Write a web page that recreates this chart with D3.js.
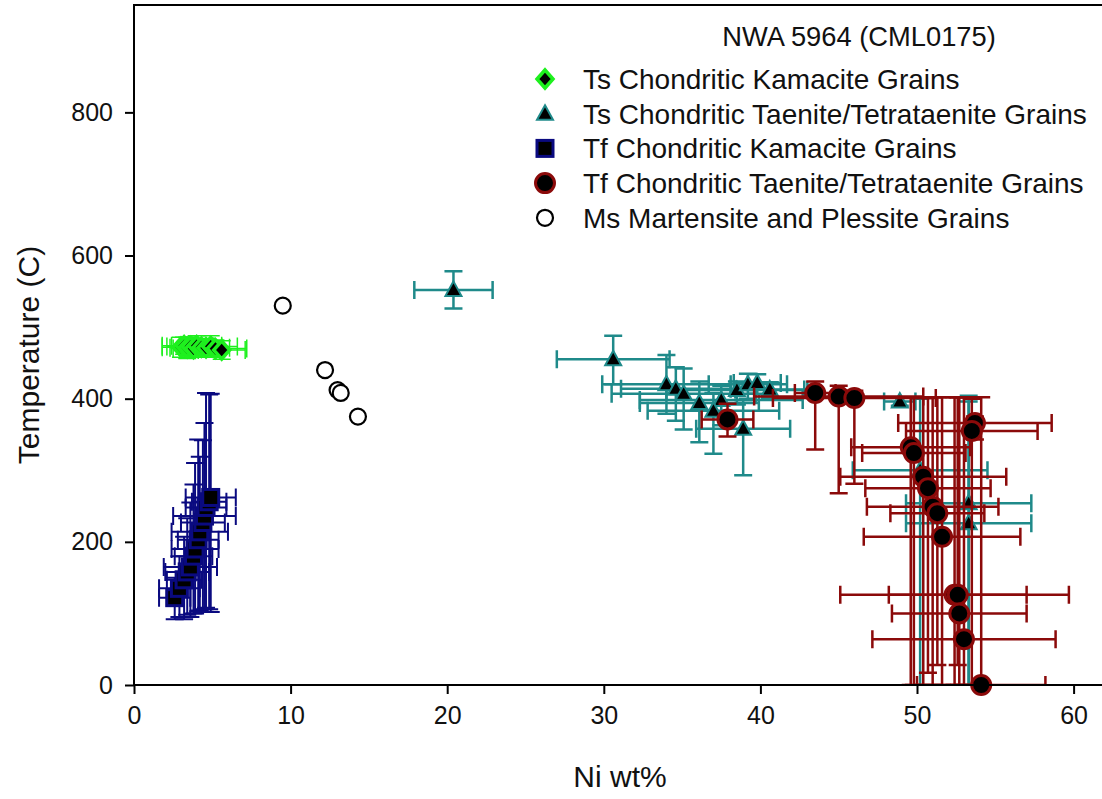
<!DOCTYPE html>
<html>
<head>
<meta charset="utf-8">
<script src="https://cdn.jsdelivr.net/npm/d3@7"></script>
<style>
  body { margin: 0; background: #fff; }
  svg { font-family: Arial, "Liberation Sans", sans-serif; }
</style>
</head>
<body>
<svg width="1102" height="799"></svg>
<script>
// rows: [Ni wt%, Ni error, Temperature, T error down, T error up]
var tsKamacite = [
  [3.0, 1.2, 472, 14, 14], [3.2, 1.4, 474, 12, 12], [3.4, 1.1, 471, 15, 15],
  [3.6, 1.5, 473, 13, 13], [3.8, 1.3, 470, 12, 12], [4.0, 1.6, 474, 14, 14],
  [4.3, 1.3, 472, 11, 11], [4.6, 1.5, 471, 13, 13], [4.9, 1.7, 473, 15, 15],
  [5.2, 2.0, 470, 12, 12], [5.6, 1.5, 468, 13, 13]
];
var tsTaenite = [
  [20.4, 2.5, 552, 26, 26], [30.6, 3.6, 455, 35, 33], [34.0, 4.1, 420, 41, 41],
  [34.6, 3.5, 414, 45, 30], [35.1, 4.6, 407, 50, 35], [36.1, 3.8, 394, 55, 30],
  [37.5, 5.2, 398, 35, 20], [38.5, 4.5, 412, 20, 12],
  [37.0, 4.2, 383, 60, 25], [38.9, 3.0, 358, 65, 40], [39.2, 2.5, 420, 20, 15],
  [39.8, 1.5, 422, 15, 12], [40.6, 2.2, 413, 12, 10], [48.9, 1.0, 396, 6, 6],
  [50.2, 4.3, 300, 320, 100], [53.3, 4.0, 254, 260, 150], [53.3, 4.0, 226, 240, 170]
];
var tfKamacite = [
  [2.6, 1.0, 122, 30, 28], [2.9, 1.3, 135, 40, 45], [3.2, 1.1, 147, 55, 60],
  [3.4, 1.4, 158, 60, 75], [3.6, 1.7, 165, 70, 90], [3.8, 1.2, 180, 80, 100],
  [3.9, 1.5, 190, 90, 120], [4.1, 1.3, 203, 100, 140], [4.2, 1.8, 214, 110, 105],
  [4.4, 1.4, 227, 125, 115], [4.5, 2.0, 236, 130, 130], [4.6, 1.3, 248, 140, 160],
  [4.8, 1.1, 256, 150, 150], [4.9, 1.6, 262, 160, 145]
];
var tfTaenite = [
  [37.9, 1.65, 371, 24, 22], [43.5, 1.3, 408, 79, 16], [45.0, 5.4, 403, 135, 15],
  [46.0, 5.2, 401, 120, 10], [53.7, 4.9, 366, 23, 9], [53.5, 4.2, 355, 355, 45],
  [49.6, 3.8, 332, 332, 70], [49.8, 3.3, 324, 324, 78], [50.4, 5.3, 291, 291, 110],
  [50.7, 4.0, 275, 258, 127], [51.0, 4.2, 249, 249, 153], [51.3, 3.0, 240, 212, 162],
  [51.6, 5.0, 207, 207, 195], [52.4, 7.3, 126, 126, 276], [52.6, 4.4, 126, 98, 276],
  [52.7, 4.3, 100, 100, 302], [53.0, 5.85, 64, 64, 338], [54.1, 4.1, 0, 0, 402]
];
var msMartensite = [[9.5, 530], [12.2, 440], [13.0, 412], [13.2, 408], [14.3, 375]];

var xTicks = [0, 10, 20, 30, 40, 50, 60];
var yTicks = [0, 200, 400, 600, 800];
var chartTitle = "NWA 5964 (CML0175)";
var legendLabels = [
  "Ts Chondritic Kamacite Grains",
  "Ts Chondritic Taenite/Tetrataenite Grains",
  "Tf Chondritic Kamacite Grains",
  "Tf Chondritic Taenite/Tetrataenite Grains",
  "Ms Martensite and Plessite Grains"
];

var svg = d3.select("svg");
var plotLeft = 134, plotTop = 5, plotBottom = 685, plotRight = 1102;
var x = d3.scaleLinear().domain([0, 62]).range([plotLeft, plotLeft + 62 * 15.66]);
var y = d3.scaleLinear().domain([0, 950]).range([plotBottom, plotTop]);

svg.append("clipPath").attr("id", "plot")
  .append("rect").attr("x", plotLeft).attr("y", plotTop)
  .attr("width", plotRight - plotLeft).attr("height", plotBottom - plotTop);

var green = "#1ef01e", teal = "#1f8a8a", navy = "#0a0a80", red = "#8b0a0a";

function errorBars(rows, color, cap, width) {
  var g = svg.append("g").attr("clip-path", "url(#plot)")
    .attr("stroke", color).attr("stroke-width", width).attr("fill", "none");
  rows.forEach(function(d) {
    var cx = x(d[0]), cy = y(d[2]);
    var x0 = x(d[0] - d[1]), x1 = x(d[0] + d[1]);
    var y0 = y(d[2] - d[3]), y1 = y(d[2] + d[4]);
    g.append("path").attr("d",
      "M" + x0 + "," + cy + "H" + x1 +
      "M" + x0 + "," + (cy - cap) + "V" + (cy + cap) +
      "M" + x1 + "," + (cy - cap) + "V" + (cy + cap) +
      "M" + cx + "," + y0 + "V" + y1 +
      "M" + (cx - cap) + "," + y0 + "H" + (cx + cap) +
      "M" + (cx - cap) + "," + y1 + "H" + (cx + cap));
  });
}

var symbols = {
  diamond: function(g, color) {
    return g.append("path").attr("d", "M0,-9L8,0L0,9L-8,0Z")
      .attr("fill", "#000").attr("stroke", color).attr("stroke-width", 3.5);
  },
  triangle: function(g, color) {
    return g.append("path").attr("d", "M0,-8.5L8,6L-8,6Z")
      .attr("fill", "#000").attr("stroke", color).attr("stroke-width", 2);
  },
  square: function(g, color) {
    return g.append("rect").attr("x", -8).attr("y", -8).attr("width", 16).attr("height", 16)
      .attr("fill", "#000").attr("stroke", color).attr("stroke-width", 3);
  },
  circle: function(g, color) {
    return g.append("circle").attr("r", 9.5)
      .attr("fill", "#000").attr("stroke", color).attr("stroke-width", 3);
  },
  open: function(g, color) {
    return g.append("circle").attr("r", 8)
      .attr("fill", "#fff").attr("stroke", color).attr("stroke-width", 2.2);
  }
};

function markers(rows, shape, color) {
  svg.append("g").selectAll("g")
    .data(rows)
    .enter().append("g")
    .attr("transform", function(d) { return "translate(" + x(d[0]) + "," + y(d.length > 2 ? d[2] : d[1]) + ")"; })
    .each(function() { symbols[shape](d3.select(this), color); });
}

errorBars(tsKamacite, green, 9, 1.5);
markers(tsKamacite, "diamond", green);
errorBars(tsTaenite, teal, 9, 2.5);
markers(tsTaenite, "triangle", teal);
errorBars(tfKamacite, navy, 9, 2);
markers(tfKamacite, "square", navy);
errorBars(tfTaenite, red, 9, 2.5);
markers(tfTaenite, "circle", red);
markers(msMartensite, "open", "#000");

// frame and axes
svg.append("path")
  .attr("d", "M" + plotLeft + "," + plotBottom + "V" + plotTop + "H" + plotRight)
  .attr("stroke", "#000").attr("stroke-width", 2).attr("fill", "none");

var xAxis = svg.append("g").attr("transform", "translate(0," + plotBottom + ")")
  .call(d3.axisBottom(x).tickValues(xTicks).tickSize(9).tickPadding(12));
var yAxis = svg.append("g").attr("transform", "translate(" + plotLeft + ",0)")
  .call(d3.axisLeft(y).tickValues(yTicks).tickSize(9).tickPadding(12));
xAxis.select(".domain").attr("d", "M" + plotLeft + ",0H" + plotRight);
yAxis.select(".domain").attr("d", "M0," + plotBottom + "V" + plotTop);
[xAxis, yAxis].forEach(function(a) {
  a.select(".domain").attr("stroke-width", 2);
  a.selectAll(".tick line").attr("stroke-width", 2);
  a.selectAll(".tick text").attr("font-size", 25)
    .attr("font-family", "Arial, 'Liberation Sans', sans-serif").attr("fill", "#111");
});

svg.append("text").attr("x", 620).attr("y", 787).attr("text-anchor", "middle")
  .attr("font-size", 30).attr("fill", "#111").text("Ni wt%");
svg.append("text").attr("transform", "translate(39,355) rotate(-90)").attr("text-anchor", "middle")
  .attr("font-size", 30).attr("fill", "#111").text("Temperature (C)");

// legend
svg.append("text").attr("x", 859).attr("y", 46).attr("text-anchor", "middle")
  .attr("font-size", 27.3).attr("fill", "#111").text(chartTitle);
var legendShapes = [["diamond", green], ["triangle", teal], ["square", navy], ["circle", red], ["open", "#000"]];
var legend = svg.append("g").selectAll("g")
  .data(legendLabels)
  .enter().append("g")
  .attr("transform", function(d, i) { return "translate(545," + (79 + i * 34.7) + ")"; });
legend.each(function(d, i) {
  symbols[legendShapes[i][0]](d3.select(this), legendShapes[i][1]);
});
legend.append("text").attr("x", 38).attr("dy", "0.36em")
  .attr("font-size", 28).attr("fill", "#111")
  .text(function(d) { return d; });
</script>
</body>
</html>
